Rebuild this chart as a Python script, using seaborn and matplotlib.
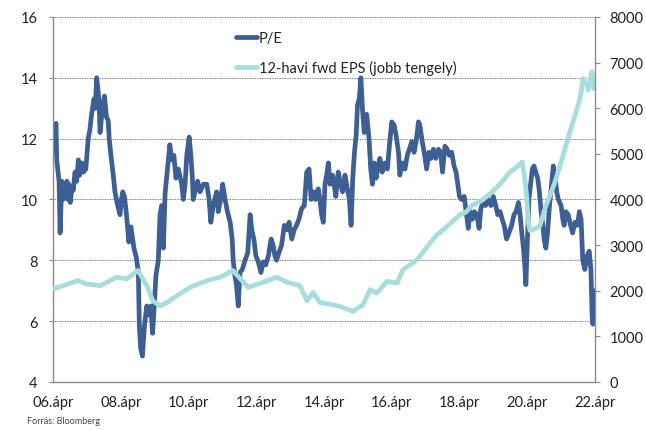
import matplotlib
matplotlib.use("Agg")
import matplotlib.pyplot as plt
import seaborn as sns

# P/E (left axis); x is in decimal years
pe_years = [
    2006.26, 2006.30, 2006.34, 2006.36, 2006.43, 2006.46, 2006.51, 2006.55, 2006.59, 2006.63,
    2006.66, 2006.69, 2006.72, 2006.76, 2006.81, 2006.85, 2006.90, 2006.95, 2007.00, 2007.04,
    2007.10, 2007.15, 2007.22, 2007.29, 2007.34, 2007.39, 2007.46, 2007.50, 2007.54, 2007.58,
    2007.61, 2007.64, 2007.71, 2007.77, 2007.83, 2007.88, 2007.91, 2007.96, 2008.03, 2008.08,
    2008.16, 2008.23, 2008.27, 2008.31, 2008.36, 2008.42, 2008.49, 2008.55, 2008.60, 2008.64,
    2008.71, 2008.77, 2008.80, 2008.84, 2008.89, 2008.95, 2009.02, 2009.08, 2009.14, 2009.19,
    2009.23, 2009.29, 2009.36, 2009.41, 2009.46, 2009.51, 2009.56, 2009.63, 2009.70, 2009.75,
    2009.82, 2009.88, 2009.95, 2010.05, 2010.10, 2010.15, 2010.20, 2010.27, 2010.32, 2010.36,
    2010.39, 2010.44, 2010.52, 2010.59, 2010.69, 2010.79, 2010.86, 2010.91, 2010.98, 2011.08,
    2011.13, 2011.20, 2011.26, 2011.33, 2011.40, 2011.48, 2011.54, 2011.57, 2011.62, 2011.67,
    2011.72, 2011.77, 2011.84, 2011.92, 2012.00, 2012.07, 2012.12, 2012.18, 2012.24, 2012.31,
    2012.39, 2012.46, 2012.53, 2012.61, 2012.69, 2012.75, 2012.80, 2012.85, 2012.92, 2013.00,
    2013.08, 2013.15, 2013.22, 2013.30, 2013.37, 2013.44, 2013.51, 2013.59, 2013.67, 2013.74,
    2013.81, 2013.87, 2013.94, 2014.00, 2014.08, 2014.13, 2014.18, 2014.23, 2014.28, 2014.33,
    2014.38, 2014.43, 2014.50, 2014.55, 2014.60, 2014.67, 2014.74, 2014.80, 2014.87, 2014.94,
    2015.00, 2015.05, 2015.10, 2015.15, 2015.20, 2015.24, 2015.29, 2015.34, 2015.39, 2015.44,
    2015.51, 2015.58, 2015.63, 2015.68, 2015.73, 2015.79, 2015.85, 2015.90, 2015.97, 2016.05,
    2016.12, 2016.18, 2016.25, 2016.32, 2016.38, 2016.45, 2016.49, 2016.56, 2016.64, 2016.71,
    2016.77, 2016.84, 2016.91, 2016.97, 2017.04, 2017.08, 2017.15, 2017.21, 2017.28, 2017.35,
    2017.41, 2017.48, 2017.55, 2017.63, 2017.69, 2017.75, 2017.82, 2017.89, 2017.95, 2018.02,
    2018.09, 2018.15, 2018.20, 2018.25, 2018.31, 2018.39, 2018.46, 2018.51, 2018.56, 2018.63,
    2018.69, 2018.76, 2018.83, 2018.88, 2018.95, 2019.02, 2019.10, 2019.18, 2019.25, 2019.32,
    2019.38, 2019.45, 2019.51, 2019.57, 2019.64, 2019.71, 2019.79, 2019.86, 2019.92, 2019.99,
    2020.04, 2020.09, 2020.13, 2020.18, 2020.21, 2020.25, 2020.30, 2020.35, 2020.40, 2020.45,
    2020.50, 2020.56, 2020.61, 2020.66, 2020.71, 2020.75, 2020.80, 2020.85, 2020.90, 2020.97,
    2021.02, 2021.07, 2021.12, 2021.17, 2021.25, 2021.30, 2021.34, 2021.39, 2021.46, 2021.53,
    2021.59, 2021.66, 2021.73, 2021.79, 2021.84, 2021.89, 2021.95, 2022.02, 2022.08, 2022.13,
    2022.17, 2022.19, 2022.22,
]
pe_values = [
    11.6, 12.3, 12.5, 11.3, 10.6, 8.9, 10.6, 10.0, 10.5, 10.1,
    10.6, 10.0, 10.5, 9.9, 10.4, 10.3, 10.9, 10.6, 11.3, 10.8,
    11.2, 10.9, 11.0, 12.0, 12.3, 12.8, 13.3, 13.0, 14.0, 13.6,
    13.2, 12.2, 13.0, 13.4, 12.7, 12.6, 12.0, 11.45, 10.8, 10.25,
    9.8, 9.5, 10.0, 10.25, 10.1, 9.5, 8.6, 9.1, 8.7, 8.4,
    8.1, 7.6, 5.85, 5.1, 4.85, 5.85, 6.5, 6.2, 6.5, 5.6,
    6.3, 7.5, 8.0, 9.5, 9.8, 8.4, 10.2, 11.0, 11.8, 11.3,
    11.45, 10.7, 11.0, 10.5, 10.0, 10.5, 11.45, 12.05, 11.45, 10.8,
    10.0, 10.25, 10.6, 10.25, 10.5, 10.5, 10.0, 9.25, 9.8, 10.25,
    9.6, 10.0, 10.5, 10.0, 9.6, 9.25, 8.7, 8.0, 7.5, 7.15,
    6.5, 7.6, 7.7, 8.0, 8.25, 9.5, 9.0, 8.7, 8.15, 7.95,
    7.6, 7.95, 7.85, 8.15, 8.7, 8.5, 8.15, 8.0, 8.25, 8.5,
    9.15, 9.0, 9.25, 8.7, 9.0, 9.15, 9.35, 9.7, 9.8, 10.9,
    11.0, 10.0, 10.25, 10.0, 10.35, 10.0, 9.5, 9.25, 10.5, 10.8,
    11.2, 10.5, 10.8, 10.5, 10.1, 10.9, 10.5, 10.25, 10.8, 10.35,
    10.0, 9.15, 10.7, 11.55, 12.1, 13.1, 13.3, 14.0, 12.9, 12.2,
    12.8, 12.0, 11.0, 10.5, 11.2, 10.7, 11.1, 11.35, 10.9, 11.2,
    11.0, 11.75, 12.55, 12.45, 12.1, 11.55, 10.8, 11.2, 11.0, 11.45,
    11.65, 11.9, 11.55, 11.9, 12.55, 12.45, 11.9, 11.55, 11.0, 11.55,
    11.35, 11.65, 11.35, 11.65, 11.55, 10.9, 11.75, 11.65, 11.45, 11.55,
    11.1, 10.9, 10.5, 10.1, 10.0, 10.1, 9.5, 9.05, 9.6, 9.35,
    9.6, 9.5, 9.05, 9.7, 9.9, 9.8, 10.0, 9.8, 10.1, 9.8,
    9.5, 9.6, 9.35, 9.15, 8.7, 8.9, 9.15, 9.5, 9.6, 9.9,
    9.5, 8.9, 8.5, 7.8, 7.2, 8.5, 10.0, 10.5, 11.0, 11.1,
    10.9, 10.7, 10.25, 9.6, 9.15, 8.7, 8.4, 8.9, 9.7, 10.5,
    11.1, 10.8, 10.25, 10.0, 9.8, 9.35, 9.15, 9.6, 9.5, 9.15,
    8.9, 9.25, 9.15, 9.6, 9.35, 8.0, 7.7, 8.15, 8.3, 7.7,
    6.05, 5.9, 7.0,
]

# 12-month forward EPS (right axis)
eps_years = [
    2006.26, 2006.99, 2007.25, 2007.64, 2008.14, 2008.43, 2008.76, 2009.02, 2009.20, 2009.41,
    2009.62, 2009.91, 2010.29, 2010.80, 2011.18, 2011.56, 2012.01, 2012.45, 2012.86, 2013.16,
    2013.54, 2013.75, 2013.93, 2014.13, 2014.43, 2014.72, 2015.11, 2015.40, 2015.61, 2015.81,
    2016.11, 2016.41, 2016.58, 2017.00, 2017.38, 2017.59, 2017.88, 2018.26, 2018.44, 2018.62,
    2018.91, 2019.21, 2019.50, 2019.74, 2019.95, 2020.10, 2020.18, 2020.24, 2020.28, 2020.33,
    2020.48, 2020.63, 2020.77, 2020.92, 2021.07, 2021.28, 2021.45, 2021.66, 2021.81, 2021.90,
    2022.01, 2022.05, 2022.10, 2022.16, 2022.22,
]
eps_values = [
    2037, 2222, 2148, 2111, 2296, 2260, 2444, 2111, 1778, 1667,
    1741, 1889, 2074, 2222, 2296, 2444, 2074, 2185, 2296, 2185,
    2111, 1778, 1963, 1741, 1704, 1657, 1548, 1694, 2022, 1950,
    2205, 2168, 2460, 2679, 3044, 3227, 3409, 3665, 3722, 3868,
    3978, 4161, 4381, 4601, 4711, 4821, 4455, 4015, 3502, 3319,
    3356, 3429, 3795, 4088, 4381, 4894, 5333, 5846, 6212, 6652,
    6506, 6396, 6579, 6799, 6432,
]

tick_years = [2006, 2008, 2010, 2012, 2014, 2016, 2018, 2020, 2022]
tick_labels = ["06.ápr", "08.ápr", "10.ápr", "12.ápr", "14.ápr",
               "16.ápr", "18.ápr", "20.ápr", "22.ápr"]

PE_COLOR = "#3e5f93"
EPS_COLOR = "#a8dddd"
AXIS_GRAY = "#8a8a8a"
TEXT = "#222222"

sns.set_style("white")
plt.rcParams["font.family"] = ["Lato", "DejaVu Sans"]

fig = plt.figure(figsize=(6.46, 4.31), dpi=100)
ax = fig.add_axes([0.082, 0.1114, 0.839, 0.847])
ax2 = ax.twinx()

sns.lineplot(x=pe_years, y=pe_values, ax=ax, color=PE_COLOR, linewidth=3.4,
             estimator=None, label="P/E", legend=False)
sns.lineplot(x=eps_years, y=eps_values, ax=ax2, color=EPS_COLOR, linewidth=3.4,
             estimator=None, label="12-havi fwd EPS (jobb tengely)", legend=False)

# x axis: April of every second year
ax.set_xlim(2006.25, 2022.25)
ax.set_xticks([y + 0.25 for y in tick_years])
ax.set_xticklabels(tick_labels)

ax.set_ylim(4, 16)
ax.set_yticks(range(4, 17, 2))
ax2.set_ylim(0, 8000)
ax2.set_yticks(range(0, 8001, 1000))

ax.yaxis.grid(True, linestyle=(0, (1, 1)), color="#555555", linewidth=0.6)
ax.set_axisbelow(True)

ax.spines["top"].set_visible(False)
ax.spines["right"].set_visible(False)
for s in ["top", "left", "bottom"]:
    ax2.spines[s].set_visible(False)
for sp in [ax.spines["left"], ax.spines["bottom"], ax2.spines["right"]]:
    sp.set_color(AXIS_GRAY)
    sp.set_linewidth(1.0)

ax.tick_params(axis="y", direction="out", length=3, color=AXIS_GRAY,
               labelsize=10.5, labelcolor=TEXT, pad=8)
ax.tick_params(axis="x", direction="inout", length=7, color=AXIS_GRAY,
               labelsize=10.5, labelcolor=TEXT, pad=6)
ax2.tick_params(axis="y", direction="out", length=3.5, color=AXIS_GRAY,
                labelsize=10.5, labelcolor=TEXT, pad=7)
ax.set_xlabel("")
ax.set_ylabel("")
ax2.set_ylabel("")

h1, l1 = ax.get_legend_handles_labels()
h2, l2 = ax2.get_legend_handles_labels()
ax2.legend(h1 + h2, l1 + l2, loc="upper left", bbox_to_anchor=(0.35, 0.95),
           bbox_transform=fig.transFigure, frameon=False, fontsize=10.5,
           handlelength=1.4, handletextpad=0.15, labelspacing=1.05,
           borderpad=0.2, labelcolor=TEXT)

fig.text(0.042, 0.012, "Forrás: Bloomberg", fontsize=6.5, color="#444444",
         ha="left", va="bottom")

fig.savefig("out.png", dpi=100)
